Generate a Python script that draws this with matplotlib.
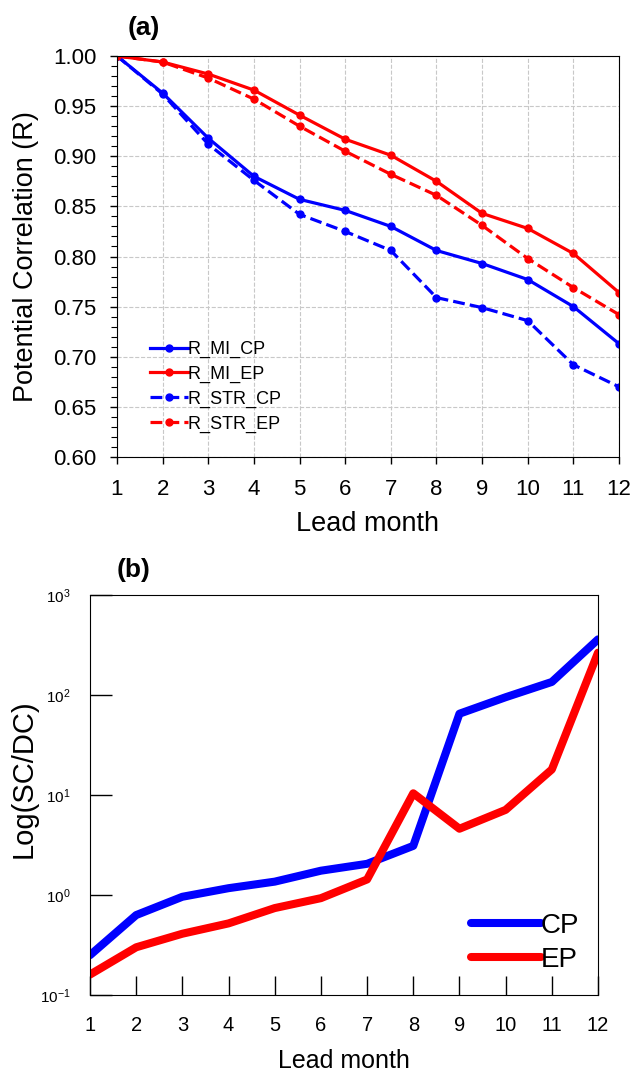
import numpy as np
import matplotlib
matplotlib.use("Agg")
import matplotlib.pyplot as plt
from matplotlib.ticker import FixedLocator, MultipleLocator, FuncFormatter, NullLocator

plt.rcParams['font.family'] = ['Liberation Sans', 'DejaVu Sans']
plt.rcParams['mathtext.fontset'] = 'custom'
plt.rcParams['mathtext.rm'] = 'Liberation Sans'

# lead months
months = np.arange(1, 13)

# panel (a): potential correlation
r_mi_cp = [1.000, 0.963, 0.918, 0.880, 0.857, 0.846, 0.830, 0.806, 0.793, 0.777, 0.750, 0.713]
r_mi_ep = [1.000, 0.994, 0.982, 0.966, 0.941, 0.917, 0.901, 0.875, 0.843, 0.828, 0.803, 0.764]
r_str_cp = [1.000, 0.962, 0.912, 0.876, 0.842, 0.825, 0.806, 0.759, 0.749, 0.736, 0.692, 0.670]
r_str_ep = [1.000, 0.994, 0.978, 0.957, 0.930, 0.905, 0.882, 0.861, 0.831, 0.798, 0.769, 0.742]

# panel (b): SC/DC ratio
sc_dc_cp = [0.25, 0.63, 0.96, 1.17, 1.36, 1.75, 2.05, 3.1, 65, 95, 135, 360]
sc_dc_ep = [0.16, 0.30, 0.41, 0.52, 0.74, 0.93, 1.43, 10.4, 4.6, 7.1, 18, 265]

W, H = 634, 1073
fig = plt.figure(figsize=(W / 100, H / 100), dpi=100)

def box(l, r, t, b):
    return [l / W, 1 - b / H, (r - l) / W, (b - t) / H]

# ---- panel (a)
ax1 = fig.add_axes(box(117, 619, 56, 457))
ax1.plot(months, r_mi_cp, '-', color='#0000ff', lw=2.3, marker='o', ms=5, label='R_MI_CP')
ax1.plot(months, r_mi_ep, '-', color='#ff0000', lw=2.3, marker='o', ms=5, label='R_MI_EP')
ax1.plot(months, r_str_cp, '--', color='#0000ff', lw=2.3, marker='o', ms=5, label='R_STR_CP')
ax1.plot(months, r_str_ep, '--', color='#ff0000', lw=2.3, marker='o', ms=5, label='R_STR_EP')
ax1.set_xlim(1, 12)
ax1.set_ylim(0.60, 1.00)
ax1.set_xticks(months)
ax1.yaxis.set_major_locator(MultipleLocator(0.05))
ax1.yaxis.set_minor_locator(MultipleLocator(0.01))
ax1.yaxis.set_major_formatter(FuncFormatter(lambda v, p: '%.2f' % v))
ax1.tick_params(axis='both', which='major', labelsize=16, length=5, width=1, direction='out', pad=10)
ax1.tick_params(axis='x', which='major', pad=11)
ax1.tick_params(axis='y', which='minor', length=4, width=0.8, direction='out')
ax1.grid(True, which='major', color='#c8c8c8', ls='--', lw=0.8)
ax1.set_xlabel('Lead month', fontsize=19.5, labelpad=8)
ax1.set_ylabel('Potential Correlation (R)', fontsize=19.5, labelpad=10)
leg1 = ax1.legend(loc='upper left', bbox_to_anchor=(150 / W, 1 - 341 / H),
                  bbox_transform=fig.transFigure, frameon=False, fontsize=13,
                  handlelength=2.1, handletextpad=0.0, labelspacing=0.42,
                  borderpad=0, borderaxespad=0)
fig.text(144 / W, 1 - 28 / H, '(a)', fontsize=19, fontweight='bold', ha='center', va='center')

# ---- panel (b)
ax2 = fig.add_axes(box(90, 598, 595, 995))
ax2.plot(months, sc_dc_cp, '-', color='#0000ff', lw=5.8, solid_capstyle='round', label='CP')
ax2.plot(months, sc_dc_ep, '-', color='#ff0000', lw=5.8, solid_capstyle='round', label='EP')
ax2.set_yscale('log')
ax2.set_xlim(1, 12)
ax2.set_ylim(0.1, 1000)
ax2.set_xticks(months)
ax2.yaxis.set_major_locator(FixedLocator([0.1, 1, 10, 100, 1000]))
ax2.yaxis.set_minor_locator(NullLocator())
ax2.yaxis.set_major_formatter(FuncFormatter(lambda v, p: r'$\mathregular{10^{%d}}$' % round(np.log10(v))))
ax2.tick_params(axis='y', which='major', labelsize=11, length=16, width=1, direction='in', pad=14)
ax2.tick_params(axis='x', which='major', labelsize=14.5, length=14, width=1, direction='in', pad=15)
ax2.set_xlabel('Lead month', fontsize=18, labelpad=10)
ax2.set_ylabel('Log(SC/DC)', fontsize=21)
ax2.yaxis.set_label_coords(-0.104, 0.54)
leg2 = ax2.legend(loc='lower right', bbox_to_anchor=(579 / W, 1 - 973 / H),
                  bbox_transform=fig.transFigure, frameon=False, fontsize=20,
                  handlelength=2.5, handletextpad=0.0, labelspacing=0.3,
                  borderpad=0, borderaxespad=0)
fig.text(134 / W, 1 - 570 / H, '(b)', fontsize=19, fontweight='bold', ha='center', va='center')

fig.savefig('out.png', dpi=100)
